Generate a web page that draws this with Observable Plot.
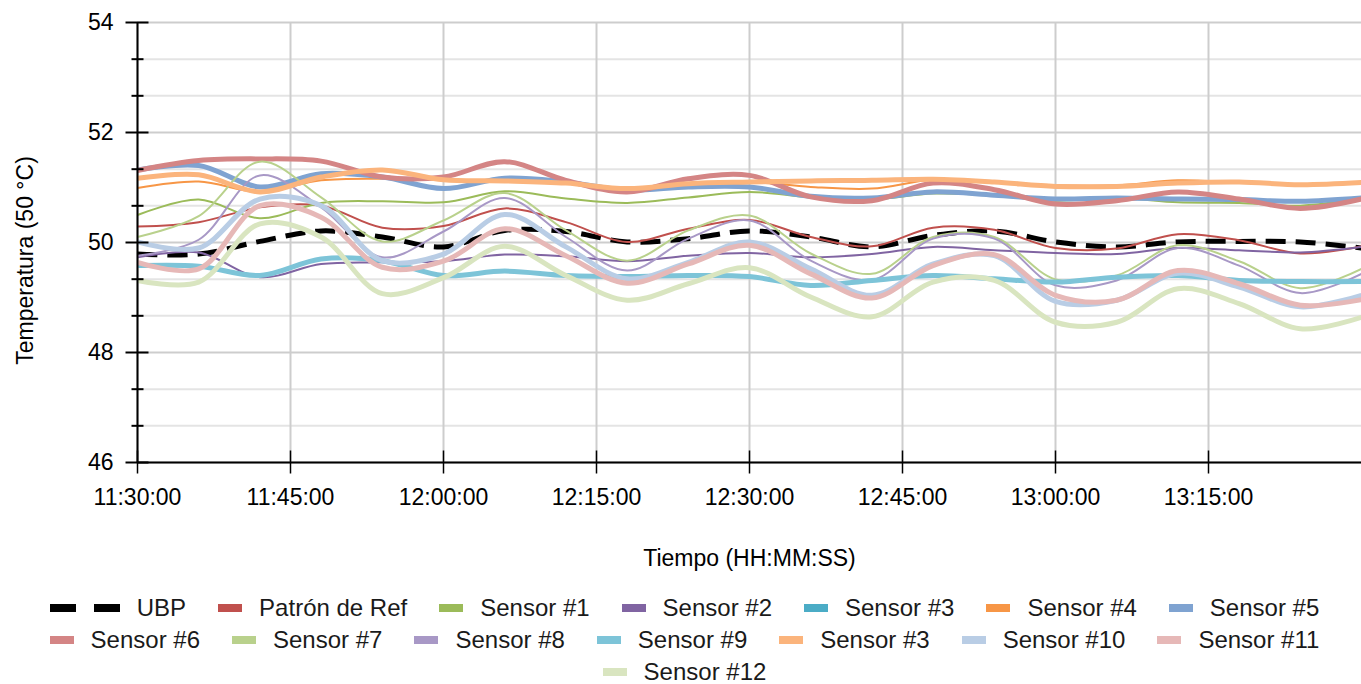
<!DOCTYPE html>
<html><head><meta charset="utf-8">
<script src="https://cdn.jsdelivr.net/npm/d3@7"></script>
<script src="https://cdn.jsdelivr.net/npm/@observablehq/plot@0.6"></script>
<style>
html,body{margin:0;padding:0;background:#fff;overflow:hidden;}
body{font-family:"Liberation Sans",Arial,sans-serif;}
#legend{display:flex;flex-wrap:wrap;justify-content:center;column-gap:32px;width:1361px;font-size:24px;line-height:32px;color:#1a1a1a;padding-left:8px;box-sizing:border-box;}
.item{display:flex;align-items:center;gap:17px;white-space:nowrap;}
.item svg{display:block;}
</style></head><body>
<div id="chart"></div>
<div id="legend"></div>
<script>
// ---- data ----
const times = ["11:30:00","11:36:00","11:42:00","11:48:00","11:54:00","12:00:00","12:06:00","12:12:00","12:18:00","12:24:00","12:30:00","12:36:00","12:42:00","12:48:00","12:54:00","13:00:00","13:06:00","13:12:00","13:18:00","13:24:00","13:30:00"];
const xTickLabels = ["11:30:00","11:45:00","12:00:00","12:15:00","12:30:00","12:45:00","13:00:00","13:15:00"];
const yMajorTicks = [46, 48, 50, 52, 54];
const yMinorTicks = [46.667, 47.333, 48.667, 49.333, 50.667, 51.333, 52.667, 53.333];
const seriesNames = ["UBP","Patrón de Ref","Sensor #1","Sensor #2","Sensor #3","Sensor #4","Sensor #5","Sensor #6","Sensor #7","Sensor #8","Sensor #9","Sensor #3","Sensor #10","Sensor #11","Sensor #12"];

const ubp      = [49.79,49.79,50.02,50.21,50.10,49.92,50.22,50.20,50.01,50.07,50.21,50.10,49.92,50.13,50.21,50.01,49.92,50.01,50.02,50.01,49.90];
const patron   = [50.29,50.37,50.64,50.67,50.27,50.30,50.62,50.37,50.01,50.25,50.41,50.10,49.93,50.27,50.23,49.90,49.89,50.15,50.04,49.80,49.93];
const sensor1  = [50.50,50.78,50.44,50.72,50.75,50.73,50.93,50.80,50.72,50.82,50.92,50.82,50.78,50.89,50.86,50.76,50.81,50.73,50.72,50.67,50.81];
const sensor2  = [49.73,49.82,49.37,49.61,49.64,49.66,49.78,49.75,49.66,49.76,49.81,49.73,49.79,49.92,49.86,49.81,49.79,49.90,49.86,49.82,49.92];
const sensor3  = [49.59,49.58,49.42,49.69,49.66,49.41,49.48,49.40,49.38,49.40,49.38,49.22,49.31,49.40,49.34,49.28,49.37,49.40,49.31,49.29,49.29];
const sensor4  = [50.99,51.11,50.92,51.13,51.16,51.14,51.13,51.10,50.98,51.07,51.10,51.01,50.98,51.14,51.10,51.04,51.04,51.13,51.09,51.05,51.09];
const sensor5  = [51.32,51.40,51.01,51.25,51.19,50.98,51.17,51.10,50.95,51.01,51.01,50.84,50.81,50.92,50.86,50.79,50.81,50.79,50.78,50.75,50.81];
const sensor6  = [51.31,51.49,51.52,51.48,51.19,51.19,51.47,51.13,50.92,51.16,51.22,50.83,50.76,51.08,50.96,50.70,50.76,50.92,50.79,50.62,50.79];
const sensor7  = [50.10,50.48,51.47,50.82,50.02,50.40,50.90,50.22,49.67,50.22,50.49,49.80,49.43,50.10,50.10,49.33,49.40,49.95,49.66,49.17,49.52];
const sensor8  = [49.76,50.05,51.22,50.64,49.73,50.20,50.81,50.10,49.49,50.07,50.40,49.67,49.32,50.07,50.07,49.22,49.31,49.90,49.58,49.08,49.43];
const sensor9  = [49.58,49.57,49.40,49.70,49.67,49.40,49.48,49.40,49.38,49.40,49.38,49.22,49.31,49.40,49.34,49.28,49.37,49.40,49.31,49.29,49.29];
const sensor3b = [51.17,51.23,50.92,51.19,51.32,51.14,51.12,51.08,50.98,51.07,51.10,51.12,51.13,51.15,51.10,51.02,51.02,51.08,51.10,51.05,51.09];
const sensor10 = [50.01,49.90,50.79,50.67,49.67,49.79,50.51,49.92,49.34,49.64,50.01,49.52,49.04,49.61,49.76,48.93,48.95,49.44,49.19,48.83,49.04];
const sensor11 = [49.64,49.52,50.67,50.46,49.55,49.66,50.25,49.76,49.26,49.61,49.95,49.43,48.99,49.58,49.78,49.04,48.95,49.49,49.25,48.86,48.96];
const sensor12 = [49.31,49.28,50.34,50.10,49.07,49.36,49.93,49.40,48.95,49.25,49.54,49.01,48.65,49.28,49.31,48.55,48.55,49.16,48.89,48.43,48.64];

const seriesValues = [ubp,patron,sensor1,sensor2,sensor3,sensor4,sensor5,sensor6,sensor7,sensor8,sensor9,sensor3b,sensor10,sensor11,sensor12];

// ---- styles ----
const colors = ["#000000","#c0504d","#9bbb59","#8064a2","#4bacc6","#f79646","#7fa3d1","#d48585","#b9d18c","#a898c6","#7dc4d8","#fbb47c","#b9cde5","#e6b8b7","#d9e5c0"];
const widths = [5,2,2,2,2,2,5,5,2,2,5,5,5,5,5];

// ---- build ----
const parse = d3.utcParse("%H:%M:%S");
const fmt = d3.utcFormat("%H:%M:%S");
const T = times.map(parse);
const xTicks = xTickLabels.map(parse);
const x0 = T[0];

const rows = [];
seriesNames.forEach((name, i) => {
  seriesValues[i].forEach((v, j) => rows.push({s: i, t: T[j], v}));
});

const crossTick = (a, b) => ({draw(ctx){ ctx.moveTo(-a, 0); ctx.lineTo(b, 0); }});
const crossTickV = (a, b) => ({draw(ctx){ ctx.moveTo(0, -a); ctx.lineTo(0, b); }});

const lineMarks = seriesNames.map((name, i) => Plot.line(rows.filter(r => r.s === i), {
  x: "t", y: "v", stroke: colors[i], strokeWidth: widths[i], curve: "catmull-rom",
  strokeDasharray: i === 0 ? "20,10" : null, strokeLinecap: "butt"
}));

const chart = Plot.plot({
  width: 1361, height: 592,
  marginLeft: 137, marginRight: 0, marginTop: 22, marginBottom: 130,
  style: {fontFamily: '"Liberation Sans", Arial, sans-serif', color: "#000", background: "#fff"},
  x: {type: "utc", domain: [T[0], T[T.length - 1]]},
  y: {domain: [46, 54]},
  marks: [
    Plot.gridY(yMinorTicks, {stroke: "#e4e4e4", strokeOpacity: 1, strokeWidth: 2}),
    Plot.gridY(yMajorTicks, {stroke: "#cdcdcd", strokeOpacity: 1, strokeWidth: 2}),
    Plot.gridX(xTicks, {stroke: "#cdcdcd", strokeOpacity: 1, strokeWidth: 2}),
    ...lineMarks,
    Plot.ruleX([x0], {stroke: "#000", strokeWidth: 2}),
    Plot.ruleY([46], {stroke: "#000", strokeWidth: 2}),
    Plot.dot(yMajorTicks, {x: () => x0, y: d => d, symbol: crossTick(12, 11), stroke: "#000", fill: "none", strokeWidth: 2}),
    Plot.dot(yMinorTicks, {x: () => x0, y: d => d, symbol: crossTick(6, 6), stroke: "#000", fill: "none", strokeWidth: 2}),
    Plot.dot(xTicks, {x: d => d, y: () => 46, symbol: crossTickV(12, 11), stroke: "#000", fill: "none", strokeWidth: 1.5}),
    Plot.axisY(yMajorTicks, {tickSize: 0, tickPadding: 24, fontSize: 23, label: null, tickFormat: d3.format("d")}),
    Plot.axisX(xTicks, {tickSize: 0, tickPadding: 26, fontSize: 23, tickFormat: fmt, label: null}),
    Plot.text(["Tiempo (HH:MM:SS)"], {frameAnchor: "bottom", dy: 96, fontSize: 23, lineAnchor: "middle"}),
    Plot.text(["Temperatura (50 °C)"], {frameAnchor: "left", rotate: -90, dx: -112, dy: 18, fontSize: 23, lineAnchor: "middle", textAnchor: "middle"})
  ]
});
document.getElementById("chart").appendChild(chart);

// ---- legend ----
const legend = document.getElementById("legend");
seriesNames.forEach((name, i) => {
  const item = document.createElement("div");
  item.className = "item";
  const sw = i === 0
    ? `<svg width="70" height="8"><rect x="0" y="0" width="26" height="8" fill="${colors[i]}"/><rect x="44" y="0" width="26" height="8" fill="${colors[i]}"/></svg>`
    : `<svg width="24" height="8"><rect x="0" y="0" width="24" height="8" fill="${colors[i]}"/></svg>`;
  item.innerHTML = sw + `<span>${name}</span>`;
  legend.appendChild(item);
});
</script>
</body></html>
